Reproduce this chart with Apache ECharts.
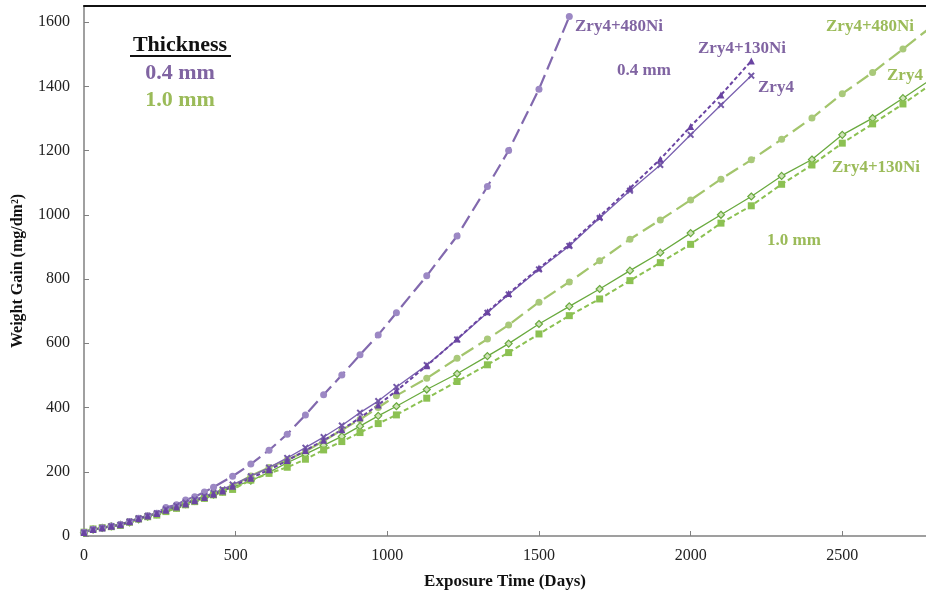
<!DOCTYPE html>
<html>
<head>
<meta charset="utf-8">
<script src="https://cdn.jsdelivr.net/npm/echarts@6/dist/echarts.min.js"></script>
<style>
  html, body { margin: 0; padding: 0; background: #fff; }
  #chart { width: 926px; height: 599px; }
</style>
</head>
<body>
<div id="chart"></div>
<script>
// exposure time points (days)
const days = [0, 30, 60, 90, 120, 150, 180, 210, 240, 270, 305, 335, 365, 397, 427, 457, 490,
  550, 610, 670, 730, 790, 850, 910, 970, 1030, 1130, 1230, 1330, 1400, 1500, 1600,
  1700, 1800, 1900, 2000, 2100, 2200, 2300, 2400, 2500, 2600, 2700, 2800]

// 0.4 mm specimens
const thin480Ni = [12, 21, 26, 31, 36, 45, 55, 63, 71, 89, 97, 112, 122, 137, 152, null, 186,
  224, 267, 317, 377, 440, 501, 564, 626, 695, 810, 934, 1088, 1200, 1391, 1617]
const thin130Ni = [11, 20, 25, 30, 35, 44, 54, 62, 70, 80, 90, 100, 110, 120, 130, 140, 155,
  180, 206, 235, 266, 298, 331, 368, 408, 452, 530, 613, 698, 755, 834, 907,
  995, 1083, 1173, 1275, 1373, 1479]
const thinZry4 = [11, 20, 25, 30, 35, 45, 55, 63, 71, 83, 94, 104, 114, 124, 134, 145, 160,
  186, 213, 243, 275, 308, 344, 384, 420, 464, 532, 612, 695, 752, 830, 903,
  990, 1075, 1155, 1249, 1342, 1433]

// 1.0 mm specimens
const thick480Ni = [12, 21, 26, 30, 35, 44, 54, 62, 70, 80, 92, 102, 112, 122, 132, 142, 156,
  187, 213, 237, 263, 296, 330, 363, 400, 437, 491, 553, 613, 657, 728, 791,
  857, 924, 984, 1046, 1111, 1171, 1235, 1301, 1377, 1443, 1516, 1590]
const thickZry4 = [10, 20, 25, 30, 35, 42, 52, 60, 68, 79, 89, 99, 109, 119, 129, 139, 152,
  172, 198, 228, 255, 282, 310, 342, 374, 404, 456, 505, 560, 599, 660, 715,
  769, 826, 882, 943, 1000, 1057, 1121, 1172, 1249, 1301, 1363, 1426]
const thick130Ni = [12, 22, 26, 29, 33, 43, 53, 60, 65, 76, 86, 97, 107, 117, 128, 136, 145,
  174, 195, 214, 239, 268, 294, 322, 350, 377, 429, 481, 533, 571, 629, 686,
  738, 795, 851, 908, 974, 1028, 1095, 1155, 1223, 1283, 1345, 1411]

const xTicks = [0, 500, 1000, 1500, 2000, 2500]
const yTicks = [0, 200, 400, 600, 800, 1000, 1200, 1400, 1600]

const serif = "'Liberation Serif', 'Times New Roman', serif"
const purple = '#8064a2'
const green = '#9bbb59'

// pair values with days, skipping empty points
const toPairs = (vals) => vals.map((v, i) => [days[i], v]).filter(p => p[1] !== null)

const crossPath = 'path://M2,0 L5,3 L8,0 L10,2 L7,5 L10,8 L8,10 L5,7 L2,10 L0,8 L3,5 L0,2 Z'

const chart = echarts.init(document.getElementById('chart'))

// annotation text, anchored at (x, y)
const label = (text, x, y, color, size, align) => ({
  type: 'text',
  x: x,
  y: y,
  style: {
    text: text,
    fill: color,
    font: 'bold ' + size + 'px ' + serif,
    align: align || 'left',
    verticalAlign: 'middle',
    textAlign: align || 'left',
    textVerticalAlign: 'middle'
  }
})

const option = {
  animation: false,
  grid: { left: 84, right: 0, top: 6, bottom: 63 },
  xAxis: [{
    type: 'value',
    min: 0,
    max: 2776,
    interval: 500,
    name: 'Exposure Time (Days)',
    nameLocation: 'middle',
    nameGap: 37,
    nameTextStyle: { fontFamily: serif, fontWeight: 'bold', fontSize: 17, color: '#111' },
    axisLine: { lineStyle: { color: '#808080', width: 1.5 } },
    axisTick: { inside: true, length: 5, lineStyle: { color: '#808080' } },
    axisLabel: {
      fontFamily: serif, fontSize: 16, color: '#222', margin: 12,
      showMaxLabel: false,
      formatter: (v) => xTicks.includes(v) ? String(v) : ''
    },
    splitLine: { show: false }
  }, {
    // top border line of the plot
    type: 'value',
    position: 'top',
    min: 0,
    max: 2776,
    axisLine: { show: true, lineStyle: { color: '#111', width: 2 } },
    axisTick: { show: false },
    axisLabel: { show: false },
    splitLine: { show: false }
  }],
  yAxis: {
    type: 'value',
    min: 0,
    max: 1650,
    interval: 200,
    name: 'Weight Gain (mg/dm²)',
    nameLocation: 'middle',
    nameRotate: 90,
    nameGap: 58,
    nameTextStyle: { fontFamily: serif, fontWeight: 'bold', fontSize: 16, color: '#111' },
    axisLine: { show: true, lineStyle: { color: '#808080', width: 1.5 } },
    axisTick: { show: true, inside: true, length: 5, lineStyle: { color: '#808080' } },
    axisLabel: {
      fontFamily: serif, fontSize: 16, color: '#222', margin: 14,
      showMaxLabel: false,
      formatter: (v) => yTicks.includes(v) ? String(v) : ''
    },
    splitLine: { show: false }
  },
  series: [
    {
      name: '1.0 mm Zry4+480Ni',
      type: 'line',
      data: toPairs(thick480Ni),
      symbol: 'circle',
      symbolSize: 7,
      itemStyle: { color: '#a9c97a' },
      lineStyle: { color: '#a3c56c', width: 2.2, type: [14, 6] }
    },
    {
      name: '1.0 mm Zry4',
      type: 'line',
      data: toPairs(thickZry4),
      symbol: 'diamond',
      symbolSize: 7,
      itemStyle: { color: '#cfe3b8', borderColor: '#6aaa3f', borderWidth: 1.2 },
      lineStyle: { color: '#6aaa3f', width: 1.3 }
    },
    {
      name: '1.0 mm Zry4+130Ni',
      type: 'line',
      data: toPairs(thick130Ni),
      symbol: 'rect',
      symbolSize: 7,
      itemStyle: { color: '#8cc152' },
      lineStyle: { color: '#8cc152', width: 2, type: [5, 3] }
    },
    {
      name: '0.4 mm Zry4+480Ni',
      type: 'line',
      data: toPairs(thin480Ni),
      connectNulls: true,
      symbol: 'circle',
      symbolSize: 7,
      itemStyle: { color: '#9c88c4' },
      lineStyle: { color: '#8269ae', width: 2.2, type: [14, 6] }
    },
    {
      name: '0.4 mm Zry4',
      type: 'line',
      data: toPairs(thinZry4),
      symbol: crossPath,
      symbolSize: 7,
      itemStyle: { color: '#7459a8' },
      lineStyle: { color: '#7b62b0', width: 1.3 }
    },
    {
      name: '0.4 mm Zry4+130Ni',
      type: 'line',
      data: toPairs(thin130Ni),
      symbol: 'triangle',
      symbolSize: 7,
      itemStyle: { color: '#6a44a2' },
      lineStyle: { color: '#6a44a2', width: 2, type: [4, 2.5] }
    }
  ],
  graphic: [
    label('Thickness', 180, 45, '#111', 22, 'center'),
    { type: 'line', shape: { x1: 130, y1: 56, x2: 231, y2: 56 }, style: { stroke: '#111', lineWidth: 2 } },
    label('0.4 mm', 180, 73, purple, 22, 'center'),
    label('1.0 mm', 180, 100, green, 22, 'center'),
    label('Zry4+480Ni', 575, 27, purple, 17),
    label('Zry4+130Ni', 698, 49, purple, 17),
    label('0.4 mm', 617, 71, purple, 17),
    label('Zry4', 758, 88, purple, 17),
    label('Zry4+480Ni', 826, 27, green, 17),
    label('Zry4', 887, 76, green, 17),
    label('Zry4+130Ni', 832, 168, green, 17),
    label('1.0 mm', 767, 241, green, 17)
  ]
}

chart.setOption(option)
</script>
</body>
</html>
